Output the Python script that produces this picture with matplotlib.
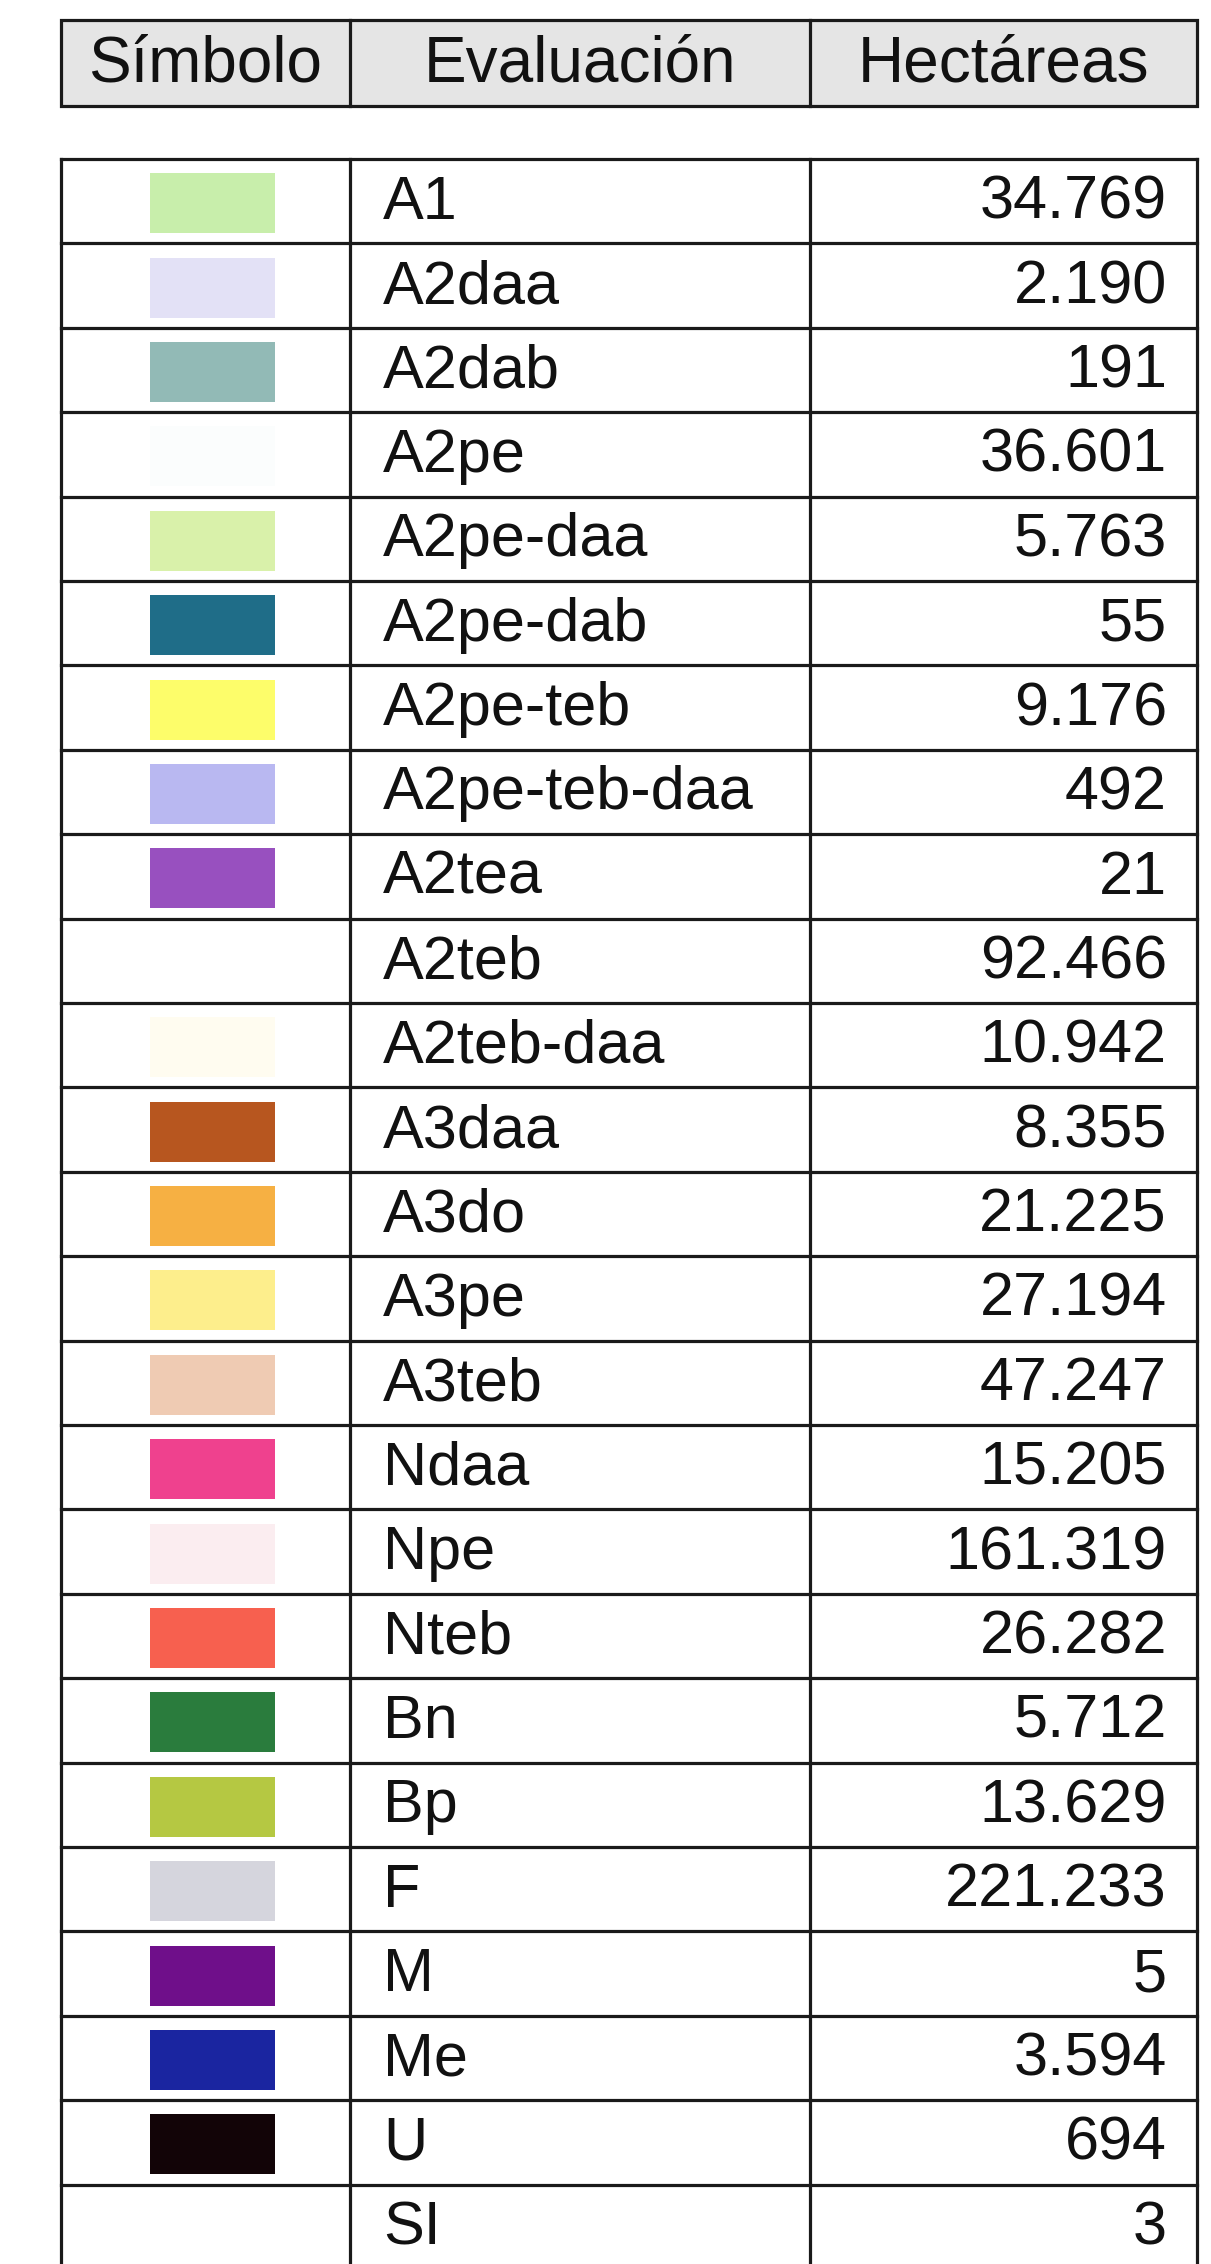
import matplotlib.pyplot as plt
from matplotlib.patches import Rectangle

plt.rcParams['font.family'] = ['Liberation Sans', 'DejaVu Sans']

# table data
headers = ['Símbolo', 'Evaluación', 'Hectáreas']
codes = ['A1', 'A2daa', 'A2dab', 'A2pe', 'A2pe-daa', 'A2pe-dab', 'A2pe-teb',
         'A2pe-teb-daa', 'A2tea', 'A2teb', 'A2teb-daa', 'A3daa', 'A3do', 'A3pe',
         'A3teb', 'Ndaa', 'Npe', 'Nteb', 'Bn', 'Bp', 'F', 'M', 'Me', 'U', 'SI']
hectares = [34769, 2190, 191, 36601, 5763, 55, 9176, 492, 21, 92466, 10942,
            8355, 21225, 27194, 47247, 15205, 161319, 26282, 5712, 13629,
            221233, 5, 3594, 694, 3]
swatch_colors = ['#c8eeab', '#e3e1f6', '#92bab6', '#fbfdfd', '#d9f1aa',
                 '#1f6d88', '#fdfd6a', '#b9b8f1', '#9850bf', None, '#fffcf0',
                 '#b7561f', '#f6b043', '#fdee8c', '#efcbb3', '#ef418e',
                 '#fbedf0', '#f7604f', '#2a7c3d', '#b5c842', '#d5d5dd',
                 '#6f0f8a', '#1a25a0', '#120407', None]

W, H = 1211, 2264
fig = plt.figure(figsize=(W / 100, H / 100), dpi=100)
ax = fig.add_axes([0, 0, 1, 1])
ax.set_xlim(0, W)
ax.set_ylim(H, 0)
ax.axis('off')

# layout in pixels
x_left, x_div1, x_div2, x_right = 61, 350, 810, 1197
head_top, head_bot = 20, 106
body_top, row_h = 159, 84.4
lw = 2.3
fs_head, fs_body = 46, 44

# header
ax.add_patch(Rectangle((x_left, head_top), x_right - x_left, head_bot - head_top,
                       facecolor='#e5e5e5', edgecolor='#1a1a1a', lw=lw))
for xd in (x_div1, x_div2):
    ax.plot([xd, xd], [head_top, head_bot], color='#1a1a1a', lw=lw)
col_edges = [x_left, x_div1, x_div2, x_right]
for i, h in enumerate(headers):
    ax.text((col_edges[i] + col_edges[i + 1]) / 2, (head_top + head_bot) / 2 + 2, h,
            ha='center', va='center', fontsize=fs_head, color='#111111')

# body
n = len(codes)
body_bot = body_top + n * row_h
for k in range(n + 1):
    y = body_top + k * row_h
    ax.plot([x_left, x_right], [y, y], color='#1a1a1a', lw=lw)
for xd in col_edges:
    ax.plot([xd, xd], [body_top, body_bot], color='#1a1a1a', lw=lw)

for k, (code, ha_val, col) in enumerate(zip(codes, hectares, swatch_colors)):
    yc = body_top + (k + 0.5) * row_h
    if col is not None:
        ax.add_patch(Rectangle((150, yc - 28), 125, 60, facecolor=col,
                               edgecolor='none'))
    ax.text(383, yc + 2, code, ha='left', va='center', fontsize=fs_body,
            color='#111111')
    label = f'{ha_val:,}'.replace(',', '.')
    ax.text(1167, yc + 2, label, ha='right', va='center', fontsize=fs_body,
            color='#111111')

fig.savefig('out.png', dpi=100, facecolor='white')
